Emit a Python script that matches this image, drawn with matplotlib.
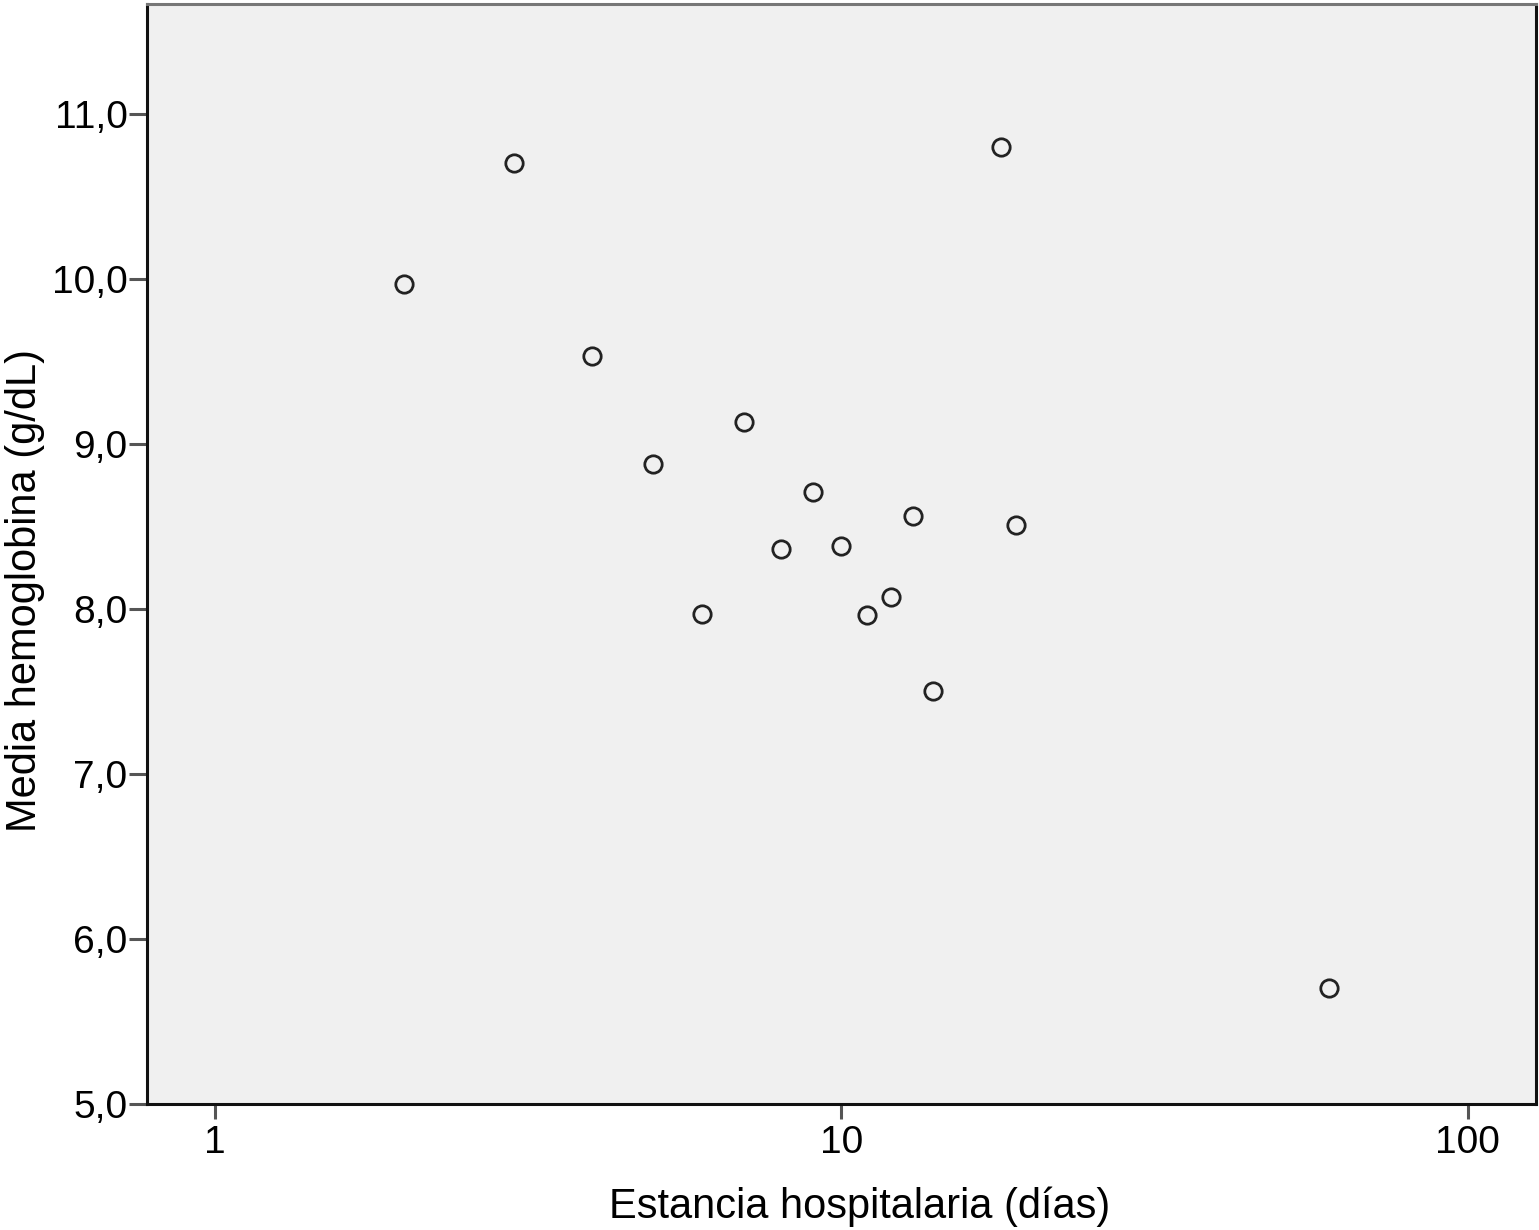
import matplotlib
matplotlib.use("Agg")
import matplotlib.pyplot as plt
from matplotlib.ticker import FixedLocator, FuncFormatter, NullLocator

plt.rcParams['font.family'] = ['Liberation Sans', 'DejaVu Sans']

estancia = [2, 3, 4, 5, 6, 7, 8, 9, 10, 11, 12, 13, 14, 18, 19, 60]
hemoglobina = [9.97, 10.70, 9.53, 8.88, 7.97, 9.13, 8.36, 8.71, 8.38, 7.96, 8.07, 8.56, 7.50, 10.80, 8.51, 5.70]
x_ticks = [1, 10, 100]
y_ticks = [5.0, 6.0, 7.0, 8.0, 9.0, 10.0, 11.0]

W, H = 1539, 1230
fig = plt.figure(figsize=(W / 100, H / 100), dpi=100)
ax = fig.add_axes([147/W, (H-1104)/H, (1536-147)/W, (1104-4)/H])
ax.set_facecolor('#f0f0f0')

ax.plot(estancia, hemoglobina, linestyle='none', marker='o', ms=12.5,
        mfc='none', mec='#222222', mew=2.0)

ax.set_xscale('log')
ax.set_xlim(0.779, 128.5)
ax.set_ylim(5.0, 11.665)
ax.xaxis.set_major_locator(FixedLocator(x_ticks))
ax.xaxis.set_minor_locator(NullLocator())
ax.xaxis.set_major_formatter(FuncFormatter(lambda v, p: f"{v:g}"))
ax.yaxis.set_major_locator(FixedLocator(y_ticks))
ax.yaxis.set_major_formatter(FuncFormatter(lambda v, p: f"{v:.1f}".replace('.', ',')))

for s in ['left', 'bottom', 'right']:
    ax.spines[s].set_color('#111111')
    ax.spines[s].set_linewidth(2.2)
ax.spines['top'].set_color('#777777')
ax.spines['top'].set_linewidth(2.2)

ax.tick_params(axis='y', direction='out', length=13, width=2.2, color='#555555',
               labelsize=28, pad=1)
ax.tick_params(axis='x', direction='out', length=11, width=2.2, color='#555555',
               labelsize=28, pad=4)

ax.set_xlabel('Estancia hospitalaria (días)', fontsize=30)
ax.set_ylabel('Media hemoglobina (g/dL)', fontsize=30)
ax.xaxis.label.set_va('center')
ax.yaxis.label.set_va('center')
ax.xaxis.set_label_coords(860 / W, 1 - 1207 / H, transform=fig.transFigure)
ax.yaxis.set_label_coords(25 / W, 1 - 590 / H, transform=fig.transFigure)

fig.savefig('out.png', dpi=100)
